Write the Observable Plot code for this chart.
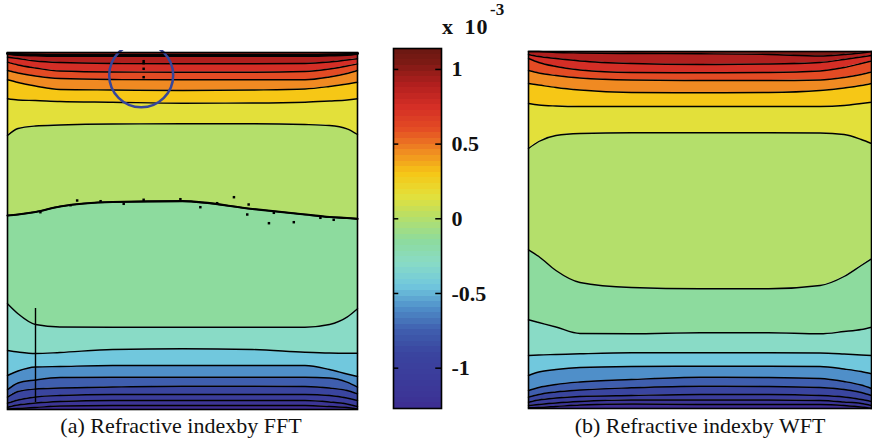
<!DOCTYPE html>
<html><head><meta charset="utf-8">
<script src="https://cdn.jsdelivr.net/npm/d3@7"></script>
<script src="https://cdn.jsdelivr.net/npm/@observablehq/plot@0.6"></script>
<style>
body{margin:0;background:#fff;}
#root{position:relative;width:872px;height:441px;overflow:hidden;background:#fff;font-family:"Liberation Serif","Times New Roman",serif;}
.abs{position:absolute;white-space:nowrap;}
.cap{font-size:22px;text-align:center;width:400px;color:#111;}
.exp{font-weight:bold;color:#111;}
</style></head><body><div id="root"></div>
<script>
// x sample positions across each panel (percent of width)
const xs = [0, 3, 8, 15, 30, 50, 70, 85, 92, 97, 100];
// panel height in rows (y measured downward from the top edge)
const rows = 357;
// contour levels (x 10^-3) for line 1..16 from top to bottom
const levels = [1.05, 0.9, 0.75, 0.6, 0.45, 0.3, 0.15, 0, -0.15, -0.3, -0.45, -0.6, -0.75, -0.9, -1.05, -1.2];
const dataMin = -1.27, dataMax = 1.14;

// (a) FFT: y (rows from top) of each contour line at xs
const fftLines = [
  [1, 2, 2.5, 3, 3, 3, 3, 3, 2.5, 2, 1],
  [4.7, 6, 8.5, 10, 11, 11.3, 11.3, 11, 9.5, 7.5, 6.3],
  [9.7, 12.5, 15.5, 18.5, 19.5, 19.7, 19.7, 19, 16.5, 13.5, 11.3],
  [18, 20.5, 23.5, 26, 27, 27.3, 27.3, 27.3, 24.5, 21, 18],
  [27.3, 30, 33.5, 37, 37.5, 38, 37.5, 36.5, 34, 31.5, 29.7],
  [46.3, 47.5, 48, 49, 49.7, 50.7, 50.5, 49.7, 48.5, 47.5, 46.3],
  [83, 76, 73.5, 72.5, 71.5, 71.3, 71.3, 72, 73, 76.3, 82],
  [163, 162, 159.5, 154, 149.5, 148.7, 156.5, 162, 164.5, 165.5, 166.3],
  [251.3, 261.3, 272, 274.5, 274.7, 274.7, 274.7, 274.7, 272, 264.7, 256.3],
  [298, 299.5, 301, 300, 297, 296.3, 297, 299.7, 300.5, 300.7, 300.7],
  [323, 318.5, 314.5, 314, 313, 313, 313, 313, 317, 321.5, 324],
  [337.3, 330.5, 327.5, 325, 324.7, 324.7, 324.7, 324.7, 325.5, 329.7, 334.7],
  [344.7, 339, 336.5, 335.5, 334.5, 333.7, 333.7, 334, 335.5, 338, 341.3],
  [350.7, 347.5, 344.5, 343, 342, 342, 342, 342, 343, 345.5, 348],
  [354.7, 352.5, 350.5, 349, 348, 348, 348, 348, 349.5, 351.5, 354],
  [356.5, 356, 355, 353.5, 353, 353, 353, 353, 354, 355, 356.5]
];
// (b) WFT
const wftLines = [
  [0, 0, 1, 1.5, 2, 2.3, 3, 4.5, 3, 1.5, 0],
  [3, 5, 7, 9.5, 12, 13, 12.5, 11, 8, 5.5, 4],
  [7, 11, 15, 18.5, 21, 21.3, 21, 19.5, 16, 12, 9.5],
  [19, 21.5, 24, 26.5, 28.5, 29, 29, 28.5, 26, 23, 20.5],
  [32, 33.5, 36, 38.5, 41, 41.3, 41, 39, 36.5, 34, 32],
  [52, 53.5, 54.5, 55, 55, 55, 55, 55, 54, 52, 50.7],
  [97, 90, 84, 82, 81.3, 81.3, 81.3, 81.5, 83, 88, 92],
  [198.3, 205, 219, 231, 236, 237.3, 237.3, 234, 225, 214, 207.3],
  [268.3, 271, 275.5, 282, 282.3, 281.3, 281.3, 282.3, 280, 278, 275.7],
  [304, 303.5, 303, 302.3, 301.3, 301.3, 301.3, 301.5, 302.5, 303.5, 304],
  [324, 320.5, 318, 316, 315, 314.7, 314.7, 315, 317.5, 320, 322.3],
  [339, 336, 333, 330.5, 328, 325.7, 326, 327, 330, 333.5, 337],
  [345.7, 343, 340.5, 338.5, 336.3, 334.7, 335, 336, 338, 341, 344],
  [350.7, 348.5, 346.5, 345, 344, 343, 343, 344, 345.5, 348, 350],
  [354, 353, 351.5, 350, 348.5, 348.5, 348.5, 349, 350.5, 352, 354],
  [356.3, 356, 355, 353.5, 352.5, 353, 353, 353, 354, 355.5, 357]
];
// noise specks in (a) [x%, row]
const fftSpecks = [[64.7,144.7],[68.9,152],[74.7,170.7],[81.8,169.7],[68.5,162],[55.1,154.7],[38.9,147.3],[26.6,148.7],[18,152.7],[9.4,159.7],[89.4,165.3],[93.2,167.3],[49.4,146.7],[59.9,150.7],[76.1,160.3],[19.9,148],[33.2,151.3],[38.9,3],[38.9,8.7],[38.9,10.7],[38.9,16.3],[38.9,24.7]];
const fftRule = [{x: 8, y1: 256, y2: 350}];
const highlight = [{x: 38.2, y: 22.8}];

// colormap
const cmapValues = [-1.27, -1.2, -1.05, -0.9, -0.75, -0.6, -0.45, -0.3, -0.15, 0, 0.15, 0.3, 0.45, 0.6, 0.75, 0.9, 1.05, 1.14];
const cmapColors = ["#3E2D92", "#3C3596", "#3B3D9B", "#3A459F", "#3F5EAE", "#4F8FC9", "#71C8DD", "#89DBC6", "#8DDB9E", "#B4DF6B", "#E3E03A", "#F6C716", "#F08A22", "#E34B24", "#D42E26", "#B01F1E", "#7A1A14", "#6A1812"];
const colorTicks = [1, 0.5, 0, -0.5, -1];
const colorTickLabels = ["1", "0.5", "0", "-0.5", "-1"];

const colorScale = {type: "linear", domain: cmapValues, range: cmapColors};
const font = '"Liberation Serif","Times New Roman",serif';

function panel(lines, w, extras) {
  const n = lines.length;
  const bandRows = [];
  for (let k = 0; k <= n; k++) {
    const v = k < n ? levels[k] : dataMin;
    xs.forEach((x, i) => bandRows.push({band: k, v, x,
      y1: k === 0 ? 0 : lines[k - 1][i],
      y2: k === n ? rows : lines[k][i]}));
  }
  const lineRows = lines.flatMap((ys, k) => ys.map((y, i) => ({line: k, x: xs[i], y})));
  return Plot.plot({
    width: w + 4, height: rows + 4, margin: 2,
    style: {background: "transparent"},
    x: {domain: [0, 100], axis: null},
    y: {domain: [0, rows], reverse: true, axis: null},
    color: colorScale,
    marks: [
      Plot.areaY(bandRows, {x: "x", y1: "y1", y2: "y2", z: "band", fill: "v", curve: "monotone-x"}),
      Plot.line(lineRows, {x: "x", y: "y", z: "line", stroke: "black", strokeWidth: 1.4, curve: "monotone-x"}),
      ...extras(lineRows),
      Plot.frame({stroke: "black", strokeWidth: 1.6})
    ]
  });
}

const root = document.getElementById("root");
function place(el, left, top) { el.style.position = "absolute"; el.style.left = left + "px"; el.style.top = top + "px"; root.appendChild(el); }

const pa = panel(fftLines, 350, (lr) => [
  Plot.line(lr.filter(d => d.line === 0), {x: "x", y: "y", stroke: "black", strokeWidth: 3, curve: "monotone-x"}),
  Plot.line(lr.filter(d => d.line === 7), {x: "x", y: "y", stroke: "black", strokeWidth: 2.2, curve: "monotone-x"}),
  Plot.dot(fftSpecks, {x: d => d[0], y: d => d[1], symbol: "square", r: 1.4, fill: "black"}),
  Plot.ruleX(fftRule, {x: "x", y1: "y1", y2: "y2", stroke: "black", strokeWidth: 1.4}),
  Plot.dot(highlight, {x: "x", y: "y", r: 32, stroke: "#36469A", strokeWidth: 2.5, fill: "none"})
]);
place(pa, 5, 50);

const pb = panel(wftLines, 343, () => []);
place(pb, 526, 49);

const cbSteps = d3.range(64).map(i => {
  const a = dataMin + (dataMax - dataMin) * i / 64, b = dataMin + (dataMax - dataMin) * (i + 1) / 64;
  return {a, b, m: (a + b) / 2};
});
const cb = Plot.plot({
  width: 130, height: 366, marginLeft: 3, marginRight: 79, marginTop: 3, marginBottom: 3,
  style: {background: "transparent"},
  x: {domain: [0, 1], axis: null},
  y: {domain: [dataMin, dataMax], axis: null},
  color: colorScale,
  marks: [
    Plot.rect(cbSteps, {x1: () => 0, x2: () => 1, y1: "a", y2: "b", fill: "m", shapeRendering: "crispEdges"}),
    Plot.ruleY(colorTicks, {x1: () => 0, x2: () => 0.11, stroke: "black", strokeWidth: 1.5}),
    Plot.ruleY(colorTicks, {x1: () => 0.88, x2: () => 1, stroke: "black", strokeWidth: 1.5}),
    Plot.text(colorTicks, {x: () => 1, y: d => d, text: (d, i) => colorTickLabels[i], dx: 10, textAnchor: "start",
      fontSize: 22, fontWeight: "bold", fontFamily: font, fill: "#111"}),
    Plot.frame({stroke: "black", strokeWidth: 1.6})
  ]
});
place(cb, 390, 45);

function txt(html, cls, left, top, extra) {
  const d = document.createElement("div"); d.className = "abs " + cls; d.innerHTML = html;
  if (extra) Object.assign(d.style, extra);
  place(d, left, top);
}
txt("x&nbsp;10", "exp", 442, 14, {fontSize: "22px", wordSpacing: "4px", letterSpacing: "1px"});
txt("-3", "exp", 490, 0, {fontSize: "17px"});
txt("(a) Refractive indexby FFT", "cap", 181 - 200, 413);
txt("(b) Refractive indexby WFT", "cap", 700 - 200, 413);
</script></body></html>
